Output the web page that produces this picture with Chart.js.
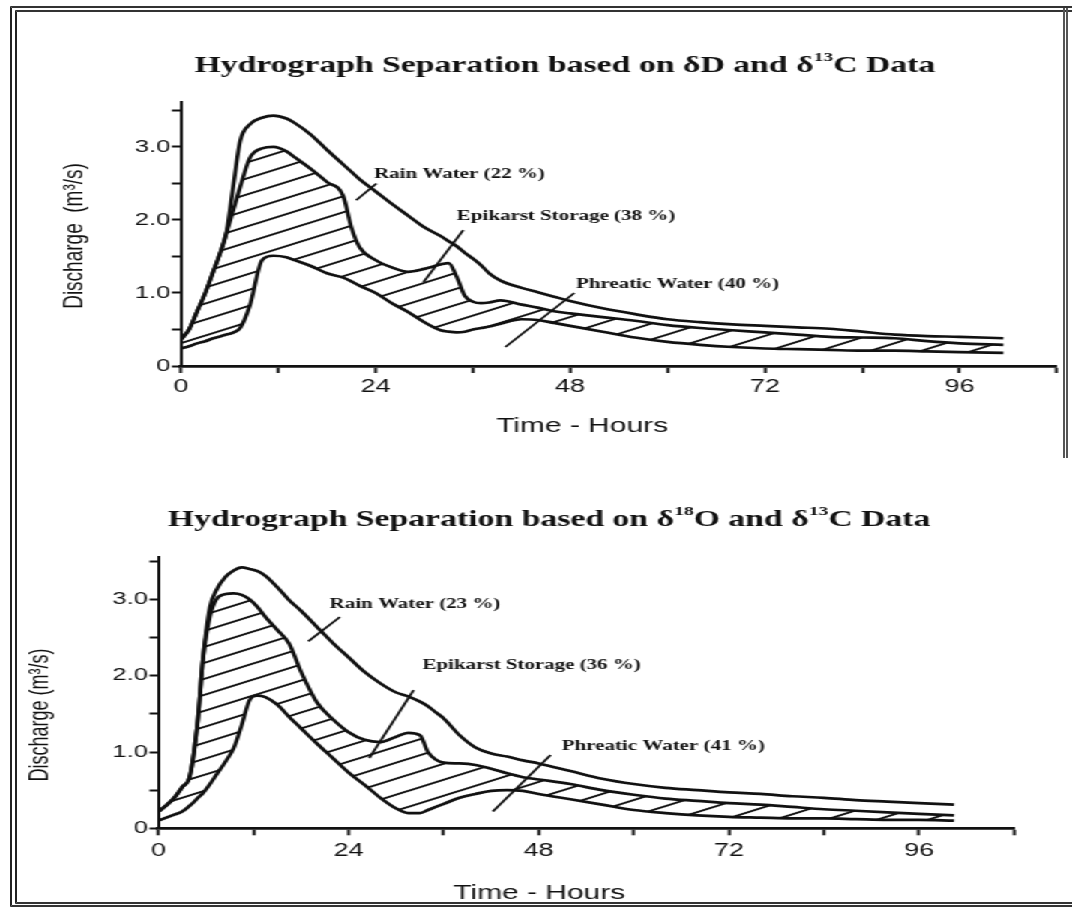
<!DOCTYPE html>
<html>
<head>
<meta charset="utf-8">
<title>Hydrograph Separation</title>
<script src="https://cdn.jsdelivr.net/npm/chart.js@4.4.1/dist/chart.umd.min.js"></script>
<style>
    html, body { margin: 0; padding: 0; background: #fff; }
    #page { position: relative; width: 1072px; height: 911px; overflow: hidden; }
    /* the scan is stretched sideways, so both charts are drawn narrow and widened here */
    #stage { position: absolute; left: 0; top: 0; width: 715px; height: 911px;
             transform-origin: 0 0; transform: scaleX(1.4993); }
    .box { position: absolute; left: 0; width: 715px; }
    #boxD { top: 0; height: 455px; }
    #boxO { top: 455px; height: 456px; }
    .frame { position: absolute; left: 10px; top: 6px; width: 1090px; height: 890px;
             border-left: 7px double #222; border-top: 6px double #333; border-bottom: 5px double #333; }
    .frame-right { position: absolute; left: 1063px; top: 8px; width: 0; height: 450px;
                   border-left: 5px double #555; }
</style>
</head>
<body>
<div id="page">
    <div class="frame"></div>
    <div class="frame-right"></div>
    <div id="stage">
        <div class="box" id="boxD"><canvas id="chartD" width="715" height="455"></canvas></div>
        <div class="box" id="boxO"><canvas id="chartO" width="715" height="456"></canvas></div>
    </div>
</div>
<script>
// ---- data: dD / d13C separation (upper chart) ----
const hoursD = [0, 1, 2, 3, 4, 5, 5.6, 6.5, 7.3, 8.5, 10, 11.4, 13, 14, 16, 18, 20, 21, 22, 24,
    26, 28, 30, 32, 33, 34, 35, 36, 37, 38, 39.4, 42, 44, 46, 48, 52, 56, 60, 64, 68,
    72, 76, 80, 84, 88, 92, 96, 101.4];
const totalQD = [0.36, 0.5, 0.75, 1.0, 1.3, 1.6, 1.82, 2.5, 3.08, 3.31, 3.40, 3.43, 3.39, 3.33, 3.17, 2.96, 2.76, 2.66, 2.56, 2.39,
    2.22, 2.06, 1.90, 1.78, 1.71, 1.64, 1.55, 1.47, 1.38, 1.27, 1.17, 1.07, 1.01, 0.95, 0.89, 0.79, 0.71, 0.64, 0.60, 0.57,
    0.55, 0.53, 0.51, 0.47, 0.43, 0.41, 0.40, 0.38];
const epiQD = [0.36, 0.5, 0.75, 1.0, 1.3, 1.6, 1.82, 2.15, 2.45, 2.85, 2.98, 3.0, 2.94, 2.86, 2.70, 2.52, 2.33, 1.9, 1.63, 1.45,
    1.35, 1.29, 1.33, 1.39, 1.41, 1.22, 0.96, 0.88, 0.86, 0.87, 0.90, 0.84, 0.80, 0.75, 0.72, 0.67, 0.62, 0.56, 0.52, 0.49,
    0.46, 0.43, 0.40, 0.39, 0.38, 0.34, 0.31, 0.29];
const phreaticQD = [0.24, 0.27, 0.31, 0.34, 0.38, 0.41, 0.43, 0.46, 0.52, 0.83, 1.45, 1.51, 1.49, 1.45, 1.37, 1.27, 1.21, 1.16, 1.1, 1.0,
    0.86, 0.74, 0.6, 0.49, 0.47, 0.46, 0.47, 0.5, 0.52, 0.54, 0.58, 0.64, 0.63, 0.59, 0.55, 0.47, 0.39, 0.33, 0.29, 0.26,
    0.24, 0.23, 0.22, 0.21, 0.21, 0.2, 0.19, 0.18];

// ---- data: d18O / d13C separation (lower chart) ----
const hoursO = [0, 1, 2, 3, 4, 5, 5.6, 6.5, 7.3, 8.5, 9.5, 10.5, 11.5, 12.5, 13.5, 15, 16.5, 18, 20, 22,
    24, 26, 28, 30, 31.5, 33, 34, 35, 36, 38, 40, 42, 44, 46, 48, 52, 56, 60, 64, 68,
    72, 76, 80, 84, 88, 92, 96, 100.4];
const totalQO = [0.22, 0.3, 0.4, 0.54, 0.7, 1.45, 2.2, 2.9, 3.12, 3.30, 3.38, 3.42, 3.40, 3.37, 3.31, 3.16, 2.99, 2.85, 2.64, 2.43,
    2.24, 2.05, 1.90, 1.78, 1.73, 1.66, 1.60, 1.52, 1.44, 1.22, 1.06, 0.98, 0.94, 0.89, 0.85, 0.75, 0.65, 0.58, 0.53, 0.50,
    0.47, 0.45, 0.42, 0.40, 0.37, 0.35, 0.33, 0.31];
const epiQO = [0.22, 0.3, 0.4, 0.54, 0.7, 1.45, 2.2, 2.78, 3.0, 3.07, 3.08, 3.06, 3.0, 2.9, 2.77, 2.6, 2.42, 2.05, 1.65, 1.43,
    1.26, 1.16, 1.13, 1.2, 1.25, 1.22, 1.0, 0.9, 0.86, 0.85, 0.83, 0.78, 0.72, 0.67, 0.64, 0.58, 0.5, 0.44, 0.39, 0.36,
    0.33, 0.31, 0.28, 0.25, 0.23, 0.21, 0.19, 0.17];
const phreaticQO = [0.1, 0.14, 0.18, 0.22, 0.3, 0.4, 0.46, 0.58, 0.7, 0.88, 1.05, 1.35, 1.68, 1.74, 1.72, 1.62, 1.46, 1.31, 1.11, 0.92,
    0.73, 0.57, 0.4, 0.26, 0.2, 0.2, 0.24, 0.28, 0.32, 0.4, 0.45, 0.49, 0.5, 0.49, 0.45, 0.38, 0.31, 0.24, 0.2, 0.17,
    0.15, 0.14, 0.13, 0.13, 0.12, 0.11, 0.11, 0.10];

// ---- ticks ----
const xTickValues = [0, 12, 24, 36, 48, 60, 72, 84, 96, 108];
const xTickLabels = ['0', '', '24', '', '48', '', '72', '', '96', ''];
const yTickValues = [0, 0.5, 1, 1.5, 2, 2.5, 3, 3.5];
const yTickLabels = ['0', '', '1.0', '', '2.0', '', '3.0', ''];

// ---- component labels (text, label anchor, pointer from/to in hours / m3/s) ----
const notesD = [
    { text: 'Rain Water (22 %)', at: [23.8, 2.62], from: [24.1, 2.50], to: [21.6, 2.27] },
    { text: 'Epikarst Storage (38 %)', at: [34.0, 2.05], from: [34.8, 1.86], to: [29.9, 1.15] },
    { text: 'Phreatic Water (40 %)', at: [48.7, 1.12], from: [48.5, 1.0], to: [40.0, 0.26] },
];
const notesO = [
    { text: 'Rain Water (23 %)', at: [21.6, 2.93], from: [22.9, 2.77], to: [18.9, 2.45] },
    { text: 'Epikarst Storage (36 %)', at: [33.3, 2.14], from: [32.2, 1.81], to: [26.6, 0.92] },
    { text: 'Phreatic Water (41 %)', at: [50.9, 1.07], from: [49.5, 0.96], to: [42.2, 0.22] },
];

const INK = '#111';
const SERIF = '"Liberation Serif", "Times New Roman", serif';
const SANS = '"Liberation Sans", Arial, sans-serif';
const HATCH_W = 34;
const HATCH_H = 16;

function makeHatch() {
    const c = document.createElement('canvas');
    c.width = HATCH_W;
    c.height = HATCH_H;
    const g = c.getContext('2d');
    g.strokeStyle = INK;
    g.lineWidth = 1.9;
    const slope = HATCH_H / HATCH_W;
    for (let k = 0; k <= 2; k++) {
        g.beginPath();
        g.moveTo(-2, k * HATCH_H + 2 * slope);
        g.lineTo(HATCH_W + 2, k * HATCH_H - (HATCH_W + 2) * slope);
        g.stroke();
    }
    return g.createPattern(c, 'repeat');
}

function drawRich(ctx, parts, cx, cy) {
    let width = 0;
    parts.forEach(p => {
        ctx.font = p.sup ? 'bold 13px ' + SERIF : 'bold 22.5px ' + SERIF;
        p.w = ctx.measureText(p.t).width;
        width += p.w;
    });
    let x = cx - width / 2;
    parts.forEach(p => {
        ctx.font = p.sup ? 'bold 13px ' + SERIF : 'bold 22.5px ' + SERIF;
        ctx.fillText(p.t, x, p.sup ? cy - 8 : cy);
        x += p.w;
    });
}

function makeTextPlugin(cfg) {
    return {
        id: 'hydroText',
        afterDraw(chart) {
            const ctx = chart.ctx;
            const xs = chart.scales.x;
            const ys = chart.scales.y;
            ctx.save();
            ctx.fillStyle = INK;
            ctx.strokeStyle = INK;
            ctx.textBaseline = 'middle';
            ctx.textAlign = 'left';
            drawRich(ctx, cfg.title, cfg.titlePos[0], cfg.titlePos[1]);

            // axis titles
            ctx.textAlign = 'center';
            ctx.font = '20px ' + SANS;
            ctx.fillText('Time - Hours', cfg.xTitlePos[0], cfg.xTitlePos[1]);
            ctx.save();
            ctx.translate(cfg.yTitlePos[0], cfg.yTitlePos[1]);
            ctx.rotate(-Math.PI / 2);
            ctx.font = cfg.yTitleSize + 'px ' + SANS;
            ctx.fillText(cfg.yTitle, 0, 0);
            ctx.restore();

            // component labels with pointer strokes
            ctx.textAlign = 'left';
            ctx.font = 'bold 14px ' + SERIF;
            ctx.lineWidth = 1.8;
            cfg.notes.forEach(n => {
                ctx.fillText(n.text, xs.getPixelForValue(n.at[0]), ys.getPixelForValue(n.at[1]));
                ctx.beginPath();
                ctx.moveTo(xs.getPixelForValue(n.from[0]), ys.getPixelForValue(n.from[1]));
                ctx.lineTo(xs.getPixelForValue(n.to[0]), ys.getPixelForValue(n.to[1]));
                ctx.stroke();
            });
            ctx.restore();
        },
    };
}

function buildChart(id, hours, total, epi, phreatic, box, text) {
    const pts = arr => hours.map((h, i) => ({ x: h, y: arr[i] }));
    const line = {
        borderColor: INK,
        borderWidth: 2.7,
        pointRadius: 0,
        cubicInterpolationMode: 'monotone',
    };
    return new Chart(document.getElementById(id), {
        type: 'line',
        data: {
            datasets: [
                Object.assign({ label: 'Rain Water', data: pts(total), fill: false }, line),
                Object.assign({ label: 'Epikarst Storage', data: pts(epi), fill: '+1', backgroundColor: makeHatch() }, line),
                Object.assign({ label: 'Phreatic Water', data: pts(phreatic), fill: false }, line),
            ],
        },
        options: {
            responsive: false,
            animation: false,
            events: [],
            layout: { padding: { left: 0, right: box.right, top: box.top, bottom: box.bottom } },
            plugins: { legend: { display: false }, tooltip: { enabled: false }, title: { display: false } },
            scales: {
                x: {
                    type: 'linear',
                    min: 0,
                    max: 108,
                    afterBuildTicks: s => { s.ticks = xTickValues.map(v => ({ value: v })); },
                    afterFit: s => { s.height = box.xAxisH; },
                    ticks: {
                        autoSkip: false,
                        maxRotation: 0,
                        padding: box.xPad,
                        color: INK,
                        font: { family: SANS, size: 18 },
                        callback: (v, i) => xTickLabels[i],
                    },
                    grid: { drawOnChartArea: false, tickLength: 7, tickWidth: 2, tickColor: INK },
                    border: { display: true, color: INK, width: 2.8 },
                },
                y: {
                    type: 'linear',
                    min: 0,
                    max: box.yMax,
                    afterBuildTicks: s => { s.ticks = yTickValues.map(v => ({ value: v })); },
                    afterFit: s => { s.width = box.left; },
                    ticks: {
                        padding: 1,
                        color: INK,
                        font: { family: SANS, size: 17 },
                        callback: (v, i) => yTickLabels[i],
                    },
                    grid: { drawOnChartArea: false, tickLength: 6, tickWidth: 2, tickColor: INK },
                    border: { display: true, color: INK, width: 2 },
                },
            },
        },
        plugins: [makeTextPlugin(text)],
    });
}

buildChart('chartD', hoursD, totalQD, epiQD, phreaticQD,
    { left: 120.7, right: 10.1, top: 101.7, bottom: 29, xAxisH: 60, xPad: 3, yMax: 3.62 },
    {
        title: [{ t: 'Hydrograph Separation based on \u03B4D and \u03B4' }, { t: '13', sup: true }, { t: 'C Data' }],
        titlePos: [376.7, 66],
        xTitlePos: [388.3, 426],
        yTitlePos: [50, 236],
        yTitle: 'Discharge  (m\u00B3/s)',
        yTitleSize: 19,
        notes: notesD,
    });

buildChart('chartO', hoursO, totalQO, epiQO, phreaticQO,
    { left: 105.7, right: 38.6, top: 101.7, bottom: 27.7, xAxisH: 55, xPad: 5, yMax: 3.56 },
    {
        title: [{ t: 'Hydrograph Separation based on \u03B4' }, { t: '18', sup: true }, { t: 'O and \u03B4' },
                { t: '13', sup: true }, { t: 'C Data' }],
        titlePos: [366.3, 65],
        xTitlePos: [359.7, 438],
        yTitlePos: [26.7, 260],
        yTitle: 'Discharge (m\u00B3/s)',
        yTitleSize: 18,
        notes: notesO,
    });
</script>
</body>
</html>
